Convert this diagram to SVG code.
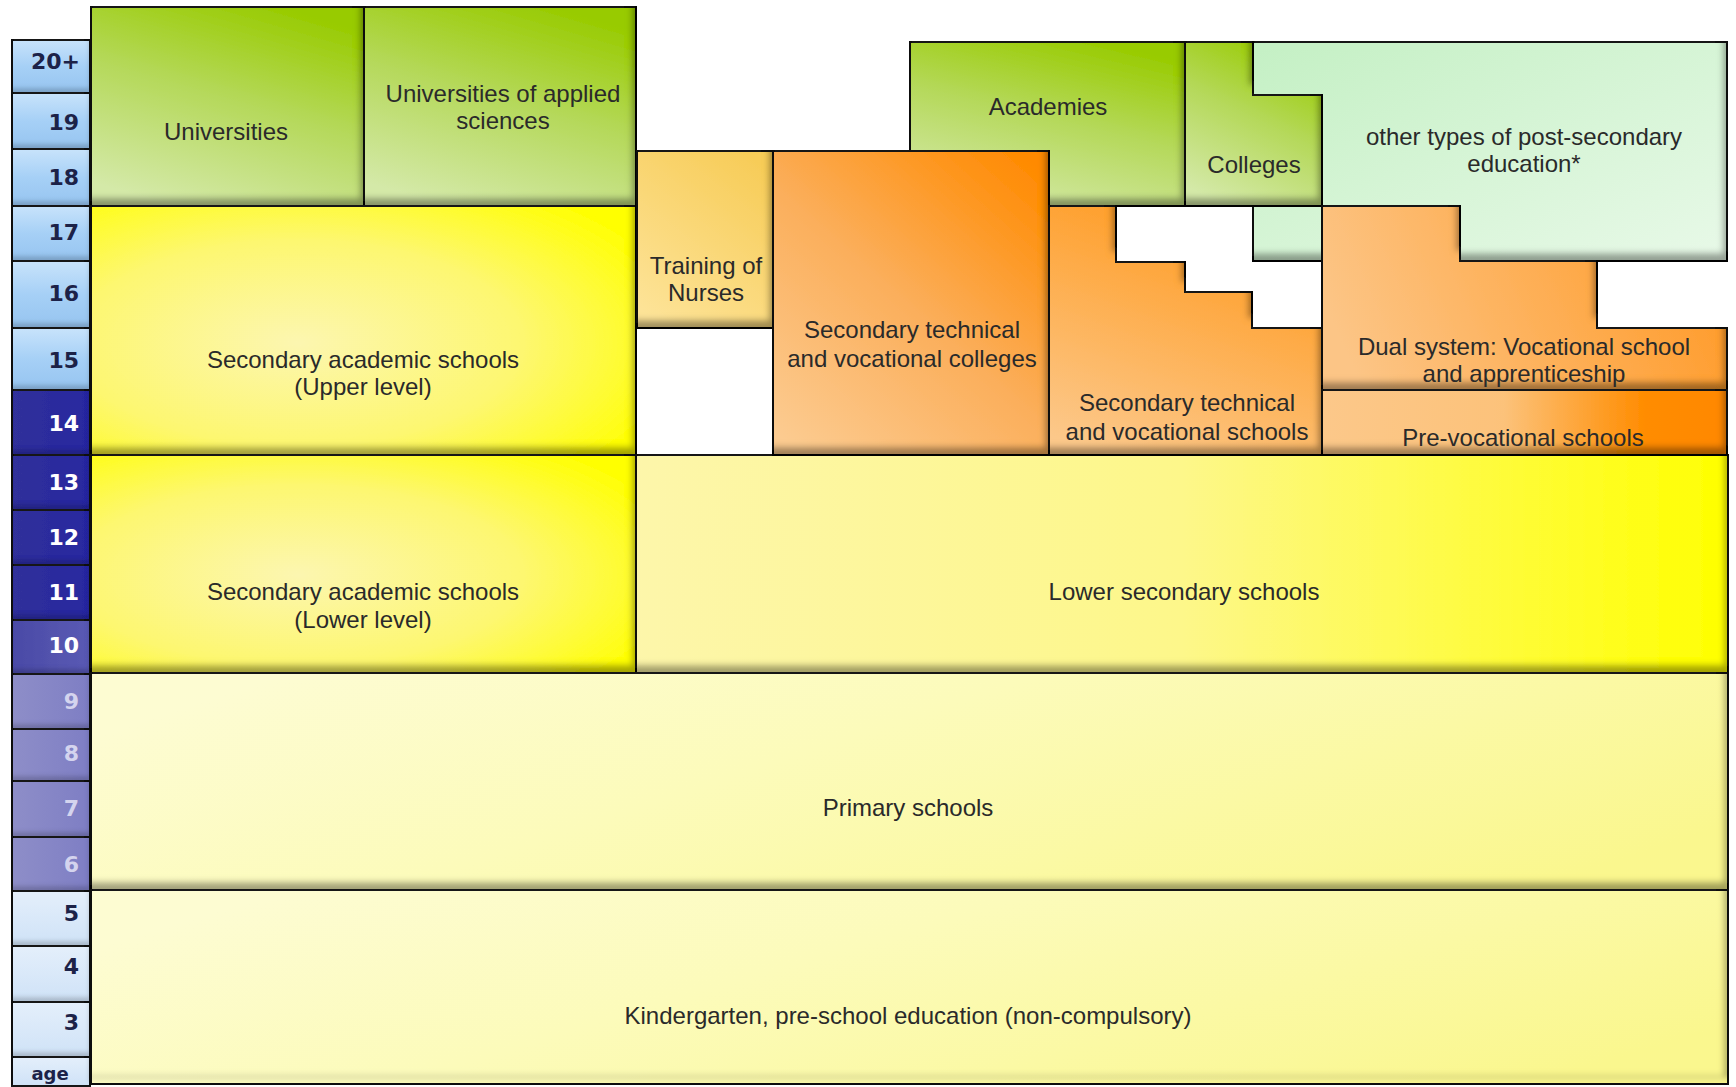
<svg xmlns="http://www.w3.org/2000/svg" width="1736" height="1087" viewBox="0 0 1736 1087">
<defs>
  <filter id="bev" filterUnits="userSpaceOnUse" x="0" y="0" width="1736" height="1087">
    <feComponentTransfer in="SourceAlpha" result="inv"><feFuncA type="table" tableValues="1 0"/></feComponentTransfer>
    <feOffset dx="-5" dy="-9"/>
    <feGaussianBlur stdDeviation="3" result="sh"/>
    <feFlood flood-color="#000" flood-opacity="0.62"/>
    <feComposite in2="sh" operator="in"/>
    <feComposite in2="SourceAlpha" operator="in" result="inner"/>
    <feMerge><feMergeNode in="SourceGraphic"/><feMergeNode in="inner"/></feMerge>
  </filter>
  <filter id="bevs" filterUnits="userSpaceOnUse" x="0" y="0" width="1736" height="1087">
    <feComponentTransfer in="SourceAlpha"><feFuncA type="table" tableValues="1 0"/></feComponentTransfer>
    <feOffset dx="-2" dy="-6"/>
    <feGaussianBlur stdDeviation="2" result="sh"/>
    <feFlood flood-color="#000" flood-opacity="0.35"/>
    <feComposite in2="sh" operator="in"/>
    <feComposite in2="SourceAlpha" operator="in" result="inner"/>
    <feMerge><feMergeNode in="SourceGraphic"/><feMergeNode in="inner"/></feMerge>
  </filter>
  <linearGradient id="gGreen" x1="0.7" y1="0" x2="0.3" y2="1">
    <stop offset="0" stop-color="#98cb00"/>
    <stop offset="0.45" stop-color="#b4d858"/>
    <stop offset="1" stop-color="#d4e9a8"/>
  </linearGradient>
  <linearGradient id="gMint" x1="0" y1="0" x2="1" y2="1">
    <stop offset="0" stop-color="#c4f0c4"/>
    <stop offset="1" stop-color="#e8f9e8"/>
  </linearGradient>
  <linearGradient id="gNurse" x1="0.8" y1="0" x2="0.2" y2="1">
    <stop offset="0" stop-color="#f7cc58"/>
    <stop offset="1" stop-color="#fde397"/>
  </linearGradient>
  <linearGradient id="gOrange" x1="0.9" y1="0" x2="0.1" y2="1">
    <stop offset="0" stop-color="#ff8a00"/>
    <stop offset="0.5" stop-color="#fbae5a"/>
    <stop offset="1" stop-color="#fccb90"/>
  </linearGradient>
  <linearGradient id="gOrange2" x1="0.6" y1="0" x2="0.2" y2="1">
    <stop offset="0" stop-color="#ff9a20"/>
    <stop offset="1" stop-color="#fcc88a"/>
  </linearGradient>
  <linearGradient id="gDual" x1="0" y1="0.5" x2="1" y2="0.3">
    <stop offset="0" stop-color="#fcc586"/>
    <stop offset="1" stop-color="#ff9a28"/>
  </linearGradient>
  <linearGradient id="gPre" x1="0" y1="0" x2="1" y2="0">
    <stop offset="0" stop-color="#fcc88a"/>
    <stop offset="0.45" stop-color="#fcc27a"/>
    <stop offset="0.8" stop-color="#ff8c00"/>
    <stop offset="1" stop-color="#ff8800"/>
  </linearGradient>
  <radialGradient id="gYel" cx="0.38" cy="0.55" r="0.75">
    <stop offset="0" stop-color="#fcf6b0"/>
    <stop offset="0.55" stop-color="#fdf770"/>
    <stop offset="1" stop-color="#ffff00"/>
  </radialGradient>
  <linearGradient id="gLowSec" x1="0" y1="0" x2="1" y2="0">
    <stop offset="0" stop-color="#fdf6aa"/>
    <stop offset="0.5" stop-color="#fdf78a"/>
    <stop offset="1" stop-color="#ffff00"/>
  </linearGradient>
  <linearGradient id="gPale" x1="0" y1="0.3" x2="1" y2="0.7">
    <stop offset="0" stop-color="#fdfcd2"/>
    <stop offset="0.4" stop-color="#fcfbba"/>
    <stop offset="1" stop-color="#faf78e"/>
  </linearGradient>
  <linearGradient id="gAgeL" x1="0" y1="0" x2="0" y2="1">
    <stop offset="0" stop-color="#c8e3fb"/>
    <stop offset="0.5" stop-color="#a6d0f6"/>
    <stop offset="1" stop-color="#96c4f0"/>
  </linearGradient>
  <linearGradient id="gAgeD" x1="0" y1="0" x2="1" y2="0">
    <stop offset="0" stop-color="#30309a"/>
    <stop offset="1" stop-color="#2828a0"/>
  </linearGradient>
  <linearGradient id="gAgeM" x1="0" y1="0" x2="1" y2="0">
    <stop offset="0" stop-color="#4a4aa6"/>
    <stop offset="1" stop-color="#5a5ab4"/>
  </linearGradient>
  <linearGradient id="gAgeP" x1="0" y1="0" x2="1" y2="0">
    <stop offset="0" stop-color="#8e8ec8"/>
    <stop offset="1" stop-color="#7e7ec4"/>
  </linearGradient>
  <linearGradient id="gAgeW" x1="0" y1="0" x2="0" y2="1">
    <stop offset="0" stop-color="#e4effb"/>
    <stop offset="1" stop-color="#cfe2f7"/>
  </linearGradient>
  <style>
    .box { stroke: #151515; stroke-width: 2; filter: url(#bev); }
    .cell { stroke: #151515; stroke-width: 2; filter: url(#bevs); }
    .t { font-family: "Liberation Sans", Arial, sans-serif; font-size: 24px; fill: #2a2a2a; text-anchor: middle; }
    .a { font-family: "DejaVu Sans", "Liberation Sans", sans-serif; font-size: 22px; font-weight: bold; text-anchor: end; }
    .ad { fill: #1c2248; }
    .aw { fill: #ffffff; }
    .ap { fill: #d4d4ee; }
  </style>
</defs>
<rect x="0" y="0" width="1736" height="1087" fill="#ffffff"/>

<g id="age-column">
  <rect class="cell" x="12" y="40" width="78" height="53" fill="url(#gAgeL)"/>
  <rect class="cell" x="12" y="93" width="78" height="56" fill="url(#gAgeL)"/>
  <rect class="cell" x="12" y="149" width="78" height="57" fill="url(#gAgeL)"/>
  <rect class="cell" x="12" y="206" width="78" height="55" fill="url(#gAgeL)"/>
  <rect class="cell" x="12" y="261" width="78" height="67" fill="url(#gAgeL)"/>
  <rect class="cell" x="12" y="328" width="78" height="62" fill="url(#gAgeL)"/>
  <rect class="cell" x="12" y="390" width="78" height="65" fill="url(#gAgeD)"/>
  <rect class="cell" x="12" y="455" width="78" height="55" fill="url(#gAgeD)"/>
  <rect class="cell" x="12" y="510" width="78" height="55" fill="url(#gAgeD)"/>
  <rect class="cell" x="12" y="565" width="78" height="55" fill="url(#gAgeD)"/>
  <rect class="cell" x="12" y="620" width="78" height="54" fill="url(#gAgeM)"/>
  <rect class="cell" x="12" y="674" width="78" height="55" fill="url(#gAgeP)"/>
  <rect class="cell" x="12" y="729" width="78" height="52" fill="url(#gAgeP)"/>
  <rect class="cell" x="12" y="781" width="78" height="56" fill="url(#gAgeP)"/>
  <rect class="cell" x="12" y="837" width="78" height="54" fill="url(#gAgeP)"/>
  <rect class="cell" x="12" y="891" width="78" height="55" fill="url(#gAgeW)"/>
  <rect class="cell" x="12" y="946" width="78" height="56" fill="url(#gAgeW)"/>
  <rect class="cell" x="12" y="1002" width="78" height="55" fill="url(#gAgeW)"/>
  <rect class="cell" x="12" y="1057" width="78" height="29" fill="url(#gAgeW)"/>
  <text class="a ad" x="80" y="69">20+</text>
  <text class="a ad" x="79" y="130">19</text>
  <text class="a ad" x="79" y="185">18</text>
  <text class="a ad" x="79" y="240">17</text>
  <text class="a ad" x="79" y="301">16</text>
  <text class="a ad" x="79" y="368">15</text>
  <text class="a aw" x="79" y="431">14</text>
  <text class="a aw" x="79" y="490">13</text>
  <text class="a aw" x="79" y="545">12</text>
  <text class="a aw" x="79" y="600">11</text>
  <text class="a aw" x="79" y="653">10</text>
  <text class="a ap" x="79" y="709">9</text>
  <text class="a ap" x="79" y="761">8</text>
  <text class="a ap" x="79" y="816">7</text>
  <text class="a ap" x="79" y="872">6</text>
  <text class="a ad" x="79" y="921">5</text>
  <text class="a ad" x="79" y="974">4</text>
  <text class="a ad" x="79" y="1030">3</text>
  <text class="a ad" x="50" y="1080" style="text-anchor:middle;font-size:18px">age</text>
</g>

<g id="universities">
  <rect class="box" x="91" y="7" width="273" height="199" fill="url(#gGreen)"/>
  <text class="t" x="226" y="140">Universities</text>
</g>
<g id="universities-applied">
  <rect class="box" x="364" y="7" width="272" height="199" fill="url(#gGreen)"/>
  <text class="t" x="503" y="102">Universities of applied</text>
  <text class="t" x="503" y="129">sciences</text>
</g>
<g id="secondary-academic-upper">
  <rect class="box" x="91" y="206" width="545" height="249" fill="url(#gYel)"/>
  <text class="t" x="363" y="368">Secondary academic schools</text>
  <text class="t" x="363" y="395">(Upper level)</text>
</g>
<g id="secondary-academic-lower">
  <rect class="box" x="91" y="455" width="545" height="218" fill="url(#gYel)"/>
  <text class="t" x="363" y="600">Secondary academic schools</text>
  <text class="t" x="363" y="628">(Lower level)</text>
</g>
<g id="lower-secondary">
  <rect class="box" x="636" y="455" width="1092" height="218" fill="url(#gLowSec)"/>
  <text class="t" x="1184" y="600">Lower secondary schools</text>
</g>
<g id="primary">
  <rect class="box" x="91" y="673" width="1637" height="217" fill="url(#gPale)"/>
  <text class="t" x="908" y="816">Primary schools</text>
</g>
<g id="kindergarten">
  <rect class="box" x="91" y="890" width="1637" height="194" fill="url(#gPale)"/>
  <text class="t" x="908" y="1024">Kindergarten, pre-school education (non-compulsory)</text>
</g>
<g id="nurses">
  <rect class="box" x="637" y="151" width="136" height="177" fill="url(#gNurse)"/>
  <text class="t" x="706" y="274">Training of</text>
  <text class="t" x="706" y="301">Nurses</text>
</g>
<g id="academies">
  <rect class="box" x="910" y="42" width="275" height="164" fill="url(#gGreen)"/>
  <text class="t" x="1048" y="115">Academies</text>
</g>
<g id="sec-tech-colleges">
  <rect class="box" x="773" y="151" width="276" height="304" fill="url(#gOrange)"/>
  <text class="t" x="912" y="338">Secondary technical</text>
  <text class="t" x="912" y="367">and vocational colleges</text>
</g>
<g id="other-post-secondary">
  <rect class="box" x="1253" y="42" width="474" height="219" fill="url(#gMint)"/>
  <text class="t" x="1524" y="145">other types of post-secondary</text>
  <text class="t" x="1524" y="172">education*</text>
</g>
<g id="colleges">
  <polygon class="box" points="1185,42 1253,42 1253,95 1322,95 1322,206 1185,206" fill="url(#gGreen)"/>
  <text class="t" x="1254" y="173">Colleges</text>
</g>
<g id="sec-tech-schools">
  <polygon class="box" points="1049,206 1116,206 1116,262 1185,262 1185,292 1252,292 1252,328 1322,328 1322,455 1049,455" fill="url(#gOrange2)"/>
  <text class="t" x="1187" y="411">Secondary technical</text>
  <text class="t" x="1187" y="440">and vocational schools</text>
</g>
<g id="dual-system">
  <polygon class="box" points="1322,206 1460,206 1460,261 1597,261 1597,328 1727,328 1727,390 1322,390" fill="url(#gDual)"/>
  <text class="t" x="1524" y="355">Dual system: Vocational school</text>
  <text class="t" x="1524" y="382">and apprenticeship</text>
</g>
<g id="pre-vocational">
  <rect class="box" x="1322" y="390" width="405" height="65" fill="url(#gPre)"/>
  <text class="t" x="1523" y="446">Pre-vocational schools</text>
</g>
<g id="connectors"></g>
</svg>
